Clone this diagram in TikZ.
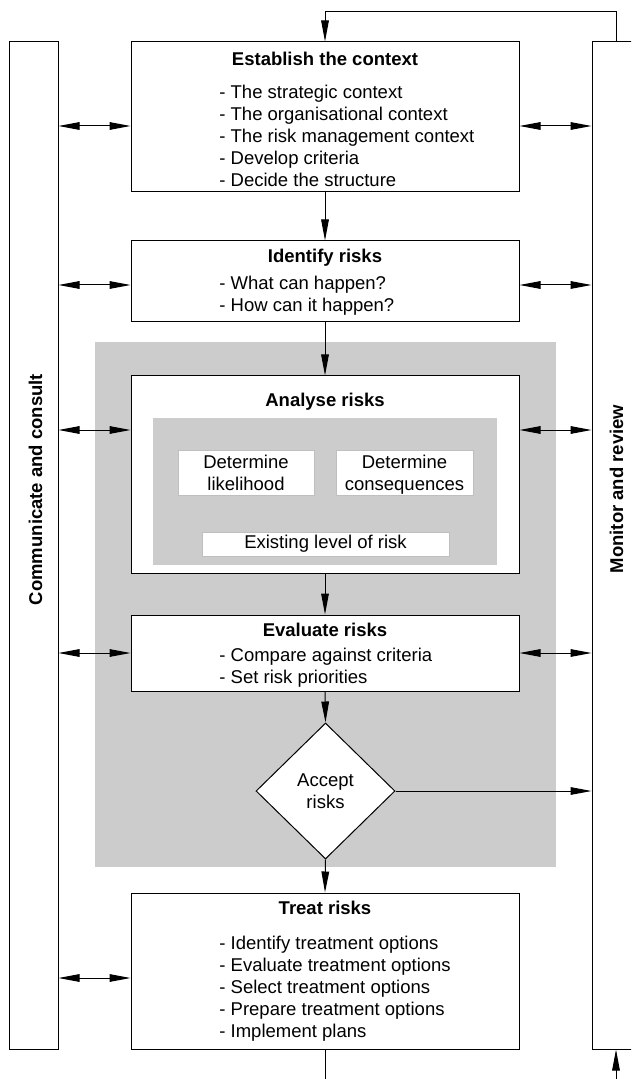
\documentclass[tikz,border=0pt]{standalone}
\usepackage{fontspec}
\setmainfont{Liberation Sans}
\usetikzlibrary{arrows.meta,shapes.geometric,calc}
\definecolor{panel}{RGB}{204,204,204}
\begin{document}
\begin{tikzpicture}[x=0.5pt,y=-0.5pt,
  every node/.style={font=\fontsize{9.25pt}{11pt}\selectfont, inner sep=0pt},
  box/.style={draw, fill=white, line width=0.5pt, minimum width=194pt},
  bar/.style={draw, line width=0.5pt, minimum width=24.5pt, minimum height=503.5pt},
  title/.style={font=\fontsize{9.25pt}{11pt}\selectfont\bfseries, anchor=base},
  sidelabel/.style={font=\fontsize{9.25pt}{11pt}\selectfont\bfseries, rotate=90, anchor=base},
  items/.style={align=left, anchor=base west},
  subbox/.style={draw=black!25, fill=white, line width=0.4pt, align=center},
  arr/.style={line width=0.5pt, -{Triangle[length=10.5pt,width=3.8pt]}},
  dbl/.style={line width=0.5pt, {Triangle[length=10.5pt,width=3.8pt]}-{Triangle[length=10.5pt,width=3.8pt]}},
  link/.style={line width=0.5pt}]

\useasboundingbox (0,0) rectangle (631,1079);
\clip (0,0) rectangle (631,1079);

% shaded stage holding analysis and evaluation
\node[fill=panel, minimum width=230.5pt, minimum height=262.5pt] (stage) at (325.5,604.5) {};

% side bars
\node[bar] (cc) at (33.5,545.5) {};
\node[sidelabel] (cclabel) at (42,489.5) {Communicate and consult};
\node[bar, minimum width=24pt] (mr) at (616,545.5) {};
\node[sidelabel] (mrlabel) at (623,489) {Monitor and review};

% establish the context (item lists are anchored below their last line)
\node[box, minimum height=75pt] (est) at (325,117) {};
\node[title] (estT) at (325,66) {Establish the context};
\node[items] (estL) at (219,187) {- The strategic context\\- The organisational context\\- The risk management context\\- Develop criteria\\- Decide the structure};

% identify risks
\node[box, minimum height=40.5pt] (idf) at (325,281.5) {};
\node[title] (idfT) at (325,263) {Identify risks};
\node[items] (idfL) at (219,312) {- What can happen?\\- How can it happen?};

% analyse risks
\node[box, minimum height=98.5pt] (ana) at (325,474.5) {};
\node[title] (anaT) at (325,406) {Analyse risks};
\node[fill=panel, minimum width=172pt, minimum height=73.5pt] (anaCore) at (325,491.5) {};
\node[subbox, minimum width=68pt, minimum height=22.5pt] (lik) at (246,472.5) {Determine\\likelihood};
\node[subbox, minimum width=68.5pt, minimum height=22.5pt] (cons) at (404.5,472.5) {Determine\\\raisebox{0pt}[\height][0pt]{consequences}};
\node[subbox, minimum width=123.5pt, minimum height=12pt] (lvl) at (325.5,544) {Existing level of risk};

% evaluate risks
\node[box, minimum height=38pt] (eva) at (325,653) {};
\node[title] (evaT) at (325,636) {Evaluate risks};
\node[items] (evaL) at (219,683) {- Compare against criteria\\- Set risk priorities};

% decision
\node[diamond, draw, fill=white, line width=0.5pt, minimum width=69.5pt, minimum height=68pt, align=center] (acc) at (325.5,791) {Accept\\risks};

% treat risks
\node[box, minimum height=78pt] (trt) at (325,971) {};
\node[title] (trtT) at (325,914) {Treat risks};
\node[items] (trtL) at (219,1037) {- Identify treatment options\\- Evaluate treatment options\\- Select treatment options\\- Prepare treatment options\\- Implement plans};

% main flow
\draw[arr] (est.south) -- (idf.north);
\draw[arr] (idf.south) -- (ana.north);
\draw[arr] (ana.south) -- (eva.north);
\draw[arr] (eva.south) -- (acc.north);
\draw[arr] (acc.south) -- (trt.north);
\draw[arr] (acc.east) -- (acc.east -| mr.west);

% feedback from monitoring back to the context
\coordinate (loop) at (325,12);
\draw[arr] (mr.north) |- (loop) -- (est.north);
\coordinate (exitDown) at (325,1090);
\draw[link] (trt.south) -- (exitDown);
\coordinate (entUp) at (616,1090);
\draw[arr] (entUp) -- (mr.south);

% links to the side bars
\coordinate (estA) at ($(est.center)+(0,9)$);
\coordinate (idfA) at ($(idf.center)+(0,3.5)$);
\coordinate (anaA) at ($(ana.center)+(0,-44.5)$);
\coordinate (evaA) at (eva.center);
\coordinate (trtA) at ($(trt.center)+(0,7)$);
\foreach \b in {est,idf,ana,eva,trt}
  \draw[dbl] (cc.east |- \b A) -- (\b A -| \b.west);
\foreach \b in {est,idf,ana,eva}
  \draw[dbl] (\b A -| \b.east) -- (\b A -| mr.west);
\end{tikzpicture}
\end{document}
